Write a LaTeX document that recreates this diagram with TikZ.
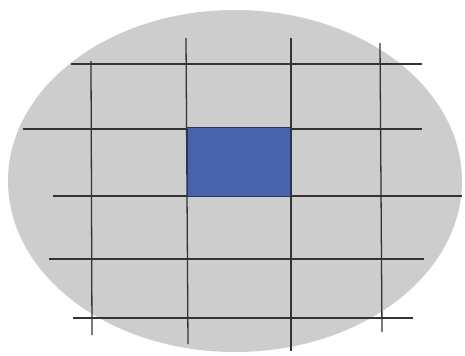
\documentclass[tikz,border=0pt]{standalone}
\usepackage{tikz}
\definecolor{regiongray}{RGB}{205,205,205}
\definecolor{cellblue}{RGB}{72,99,172}

\begin{document}
\begin{tikzpicture}[
    x=0.03cm, y=-0.03cm,
    gridline/.style={line width=1.1pt, black!80},
    region/.style={fill=regiongray},
    cell/.style={fill=cellblue, draw=cellblue!55!black, line width=0.7pt}
]
    % Frame
    \useasboundingbox (0,0) rectangle (465,356);

    % Region
    \fill[region] (235,181) ellipse (227 and 171);

    % Horizontal lines
    \draw[gridline] (71,64) -- (422,64);
    \draw[gridline] (23,129) -- (422,129);
    \draw[gridline] (53,196) -- (462,196);
    \draw[gridline] (49,259) -- (424,259);
    \draw[gridline] (73,318) -- (413,318);

    % Vertical lines
    \draw[gridline] (91,61) -- (92,335);
    \draw[gridline] (186,38) -- (188,344);
    \draw[gridline] (291,38) -- (291,351);
    \draw[gridline] (380,43) -- (382,332);

    % Highlighted cell
    \filldraw[cell] (187,127) rectangle (290,196);
\end{tikzpicture}
\end{document}
